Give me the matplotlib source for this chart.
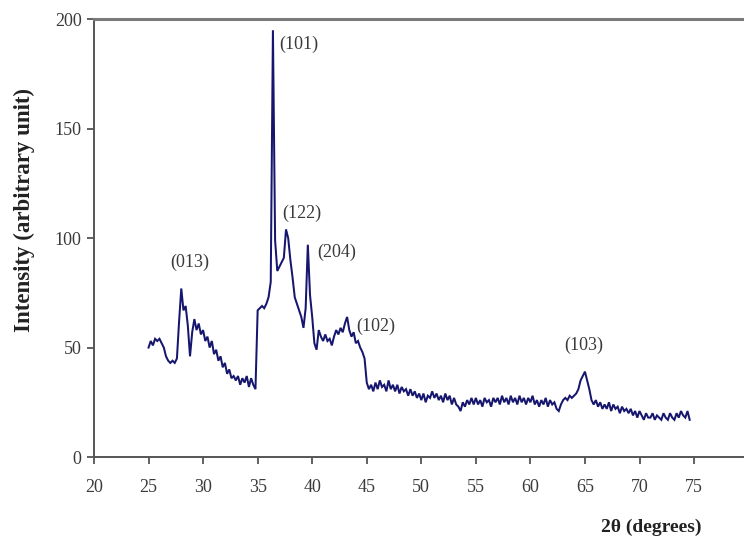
import numpy as np
import matplotlib
matplotlib.use("Agg")
import matplotlib.pyplot as plt

# Diffraction scan: 2-theta grid (degrees) and measured intensity (arbitrary units)
two_theta = np.round(np.arange(25.0, 74.61, 0.2), 1)
intensity = [
    50, 53, 51, 54, 53, 54, 52, 50, 46, 44,   # 25.0 - 26.8
    43, 44, 43, 45, 62, 77, 67, 69, 60, 46,   # 27.0 - 28.8
    57, 63, 58, 61, 56, 58, 53, 55, 50, 53,   # 29.0 - 30.8
    47, 49, 44, 46, 41, 43, 38, 40, 36, 37,   # 31.0 - 32.8
    35, 37, 33, 36, 34, 37, 32, 36, 33, 31,   # 33.0 - 34.8
    67, 68, 69, 68, 70, 73, 80, 195, 99, 85,  # 35.0 - 36.8
    87, 89, 91, 104, 100, 90, 82, 73, 70, 67, # 37.0 - 38.8
    64, 59, 68, 97, 74, 64, 52, 49, 58, 55,   # 39.0 - 40.8
    53, 56, 53, 54, 51, 55, 58, 56, 59, 57,   # 41.0 - 42.8
    61, 64, 58, 55, 57, 52, 53, 50, 48, 45,   # 43.0 - 44.8
    34, 31, 33, 30, 34, 31, 35, 32, 33, 30,   # 45.0 - 46.8
    35, 31, 33, 30, 33, 29, 32, 30, 31, 28,   # 47.0 - 48.8
    31, 28, 30, 27, 29, 26, 29, 25, 28, 27,   # 49.0 - 50.8
    30, 27, 29, 26, 28, 25, 29, 26, 28, 24,   # 51.0 - 52.8
    27, 24, 23, 21, 25, 23, 26, 24, 27, 24,   # 53.0 - 54.8
    27, 24, 26, 23, 27, 25, 26, 23, 27, 25,   # 55.0 - 56.8
    27, 24, 28, 25, 27, 24, 28, 25, 27, 24,   # 57.0 - 58.8
    28, 25, 27, 24, 27, 25, 28, 24, 26, 23,   # 59.0 - 60.8
    26, 24, 27, 23, 26, 24, 25, 22, 21, 24,   # 61.0 - 62.8
    26, 27, 26, 28, 27, 28, 29, 31, 35, 37,   # 63.0 - 64.8
    39, 35, 31, 26, 24, 26, 23, 25, 22, 24,   # 65.0 - 66.8
    22, 25, 21, 24, 22, 23, 20, 23, 21, 22,   # 67.0 - 68.8
    20, 22, 19, 21, 18, 21, 19, 17, 20, 18,   # 69.0 - 70.8
    18, 20, 17, 19, 18, 17, 20, 18, 17, 20,   # 71.0 - 72.8
    18, 17, 20, 18, 21, 19, 18, 21, 17,       # 73.0 - 74.6
]
assert len(intensity) == len(two_theta)

# Reflection labels (Miller indices) and where they sit
peak_labels = ["(013)", "(101)", "(122)", "(204)", "(102)", "(103)"]
label_x = [28.8, 38.77, 39.04, 42.21, 45.83, 64.85]
label_y = [88.8, 188.6, 111.3, 93.4, 59.9, 51.1]

x_ticks = [20, 25, 30, 35, 40, 45, 50, 55, 60, 65, 70, 75]
y_ticks = [0, 50, 100, 150, 200]

serif = ["Liberation Serif", "DejaVu Serif"]
plt.rcParams["font.family"] = serif

fig = plt.figure(figsize=(7.44, 5.43), dpi=100)
ax = fig.add_axes([94 / 744, 1 - 457 / 543, 1 - 94 / 744, (457 - 19.3) / 543])

ax.plot(two_theta, intensity, color="#16166e", lw=1.45, solid_joinstyle="miter")

ax.set_xlim(20, 20 + (744 - 94) / 10.91)
ax.set_ylim(0, 200)
ax.set_xticks(x_ticks)
ax.set_yticks(y_ticks)
ax.set_xticklabels([str(t) for t in x_ticks])
ax.set_yticklabels([str(t) for t in y_ticks])

ax.spines["right"].set_visible(False)
ax.spines["top"].set_color("#7a7a7a")
ax.spines["top"].set_linewidth(2.2)
ax.spines["left"].set_color("#555555")
ax.spines["left"].set_linewidth(1.4)
ax.spines["bottom"].set_color("#555555")
ax.spines["bottom"].set_linewidth(1.4)

ax.tick_params(axis="both", direction="out", length=5, width=1.3,
               color="#555555", labelcolor="#3a3a3a", labelsize=13)
ax.tick_params(axis="x", pad=11)
ax.tick_params(axis="y", pad=4)

for txt, lx, ly in zip(peak_labels, label_x, label_y):
    ax.text(lx, ly, txt, ha="center", va="center", fontsize=13, color="#3a3a3a")

fig.text(24 / 744, 1 - 210 / 543, "Intensity (arbitrary unit)", rotation=90,
         ha="center", va="center", fontsize=16.5, fontweight="bold", color="#222222")
fig.text(651 / 744, 1 - 527 / 543, "2θ (degrees)", ha="center", va="center",
         fontsize=14, fontweight="bold", color="#222222")

fig.savefig("out.png", dpi=100)
